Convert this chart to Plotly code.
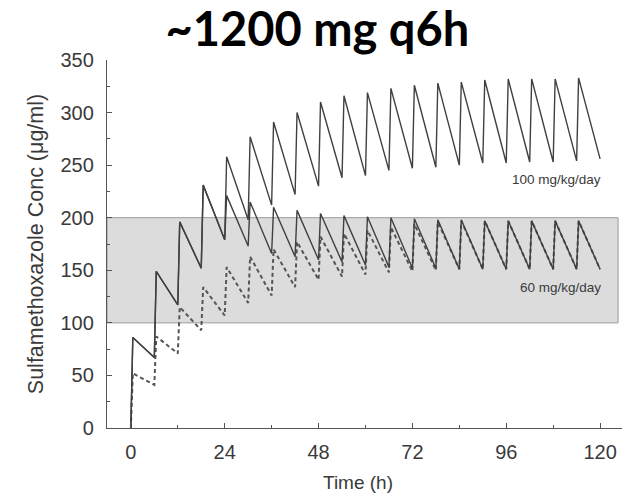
import plotly.graph_objects as go

# ---- data ----
dose_times = [0, 6, 12, 18, 24, 30, 36, 42, 48, 54, 60, 66, 72, 78, 84, 90, 96, 102, 108, 114]
interval_h = 6
peak_delay_h = 0.5

hi_peaks = [86, 149, 196, 231, 258, 277, 291, 300, 310, 316, 319, 323, 326, 328, 329, 331, 332, 332, 332, 333]
hi_troughs = [67, 117, 152, 179, 198, 212, 222, 230, 238, 240, 245, 247, 248, 250, 252, 252, 253, 253, 254, 256]

lo_peaks = [86, 149, 196, 231, 221, 215, 210, 207, 204, 202, 201, 200, 199, 198, 198, 197, 197, 197, 197, 197]
lo_troughs = [67, 117, 152, 179, 173, 166, 163, 160, 158, 155, 153, 152, 152, 151, 151, 151, 151, 151, 151, 151]

dash_peaks = [52, 87, 115, 134, 153, 163, 170, 177, 182, 185, 188, 191, 194, 196, 197, 197, 197, 197, 197, 197]
dash_troughs = [41, 71, 93, 107, 119, 126, 134, 141, 144, 146, 148, 149, 150, 151, 151, 151, 151, 151, 151, 151]

x_ticks = [0, 24, 48, 72, 96, 120]
y_ticks = [0, 50, 100, 150, 200, 250, 300, 350]
band_low, band_high = 100, 200


def build(peaks, troughs):
    t, c = [dose_times[0]], [0]
    for d, p, tr in zip(dose_times, peaks, troughs):
        t += [d + peak_delay_h, d + interval_h]
        c += [p, tr]
    return t, c


line_col = "#404040"
axis_col = "#555555"
txt_col = "#3a3a3a"
FONT = "Liberation Sans"

fig = go.Figure()

t, c = build(dash_peaks, dash_troughs)
fig.add_trace(go.Scatter(x=t, y=c, mode="lines",
                         line=dict(color="#555555", width=2, dash="4px,3px"),
                         showlegend=False, hoverinfo="skip"))
t, c = build(lo_peaks, lo_troughs)
fig.add_trace(go.Scatter(x=t, y=c, mode="lines",
                         line=dict(color=line_col, width=1.4),
                         showlegend=False, hoverinfo="skip"))
t, c = build(hi_peaks, hi_troughs)
fig.add_trace(go.Scatter(x=t, y=c, mode="lines",
                         line=dict(color=line_col, width=1.4),
                         showlegend=False, hoverinfo="skip"))

fig.add_shape(type="rect", xref="x", yref="y", x0=-6.1, x1=124.6,
              y0=band_low, y1=band_high, layer="below",
              fillcolor="#dcdcdc", line=dict(color="#9a9a9a", width=1))

fig.add_annotation(x=120.8, y=236, xref="x", yref="y", text="100 mg/kg/day",
                   showarrow=False, xanchor="right", yanchor="middle",
                   font=dict(family=FONT, size=13.5, color=txt_col))
fig.add_annotation(x=120.8, y=134, xref="x", yref="y", text="60 mg/kg/day",
                   showarrow=False, xanchor="right", yanchor="middle",
                   font=dict(family=FONT, size=13.5, color=txt_col))
fig.add_annotation(x=358, y=482, xref="paper", yref="paper", text="Time (h)",
                   showarrow=False, xanchor="center", yanchor="middle",
                   font=dict(family=FONT, size=19, color=txt_col))

fig.update_layout(
    width=631, height=499,
    margin=dict(l=107, r=9, t=60, b=71),
    paper_bgcolor="white", plot_bgcolor="rgba(0,0,0,0)",
    title=dict(text="<b>~1200 mg q6h</b>", x=0.503, xanchor="center",
               y=0.94, yanchor="middle",
               font=dict(family="Lato", size=47, color="black")),
    font=dict(family=FONT, color=txt_col),
)
# place "Time (h)" using pixel-based paper coords
fig.layout.annotations[2].x = (358 - 107) / (631 - 107 - 9)
fig.layout.annotations[2].y = -(482 - 428) / (428 - 60)

fig.update_xaxes(
    range=[-6.1, 125.6], tickvals=x_ticks, ticks="inside", ticklen=5,
    tickcolor=axis_col, tickwidth=1.2, showline=True, linecolor=axis_col,
    linewidth=1.3, showgrid=False, zeroline=False,
    tickfont=dict(family=FONT, size=20, color=txt_col),
    minor=dict(ticks="inside", ticklen=3, tick0=0, dtick=12, tickcolor=axis_col, tickwidth=1.2),
    ticklabelstandoff=6,
)
fig.update_yaxes(
    range=[0, 350], tickvals=y_ticks, ticks="inside", ticklen=5,
    tickcolor=axis_col, tickwidth=1.2, showline=True, linecolor=axis_col,
    linewidth=1.3, showgrid=False, zeroline=False,
    tickfont=dict(family=FONT, size=20, color=txt_col),
    minor=dict(ticks="inside", ticklen=3, tick0=0, dtick=25, tickcolor=axis_col, tickwidth=1.2),
    title=dict(text="Sulfamethoxazole Conc (μg/ml)", font=dict(family=FONT, size=21.5, color=txt_col), standoff=10),
    ticklabelstandoff=8,
)

fig.write_html("out.html")
